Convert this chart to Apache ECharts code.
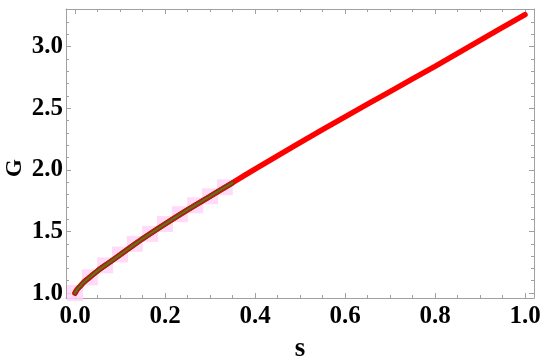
<!DOCTYPE html>
<html>
<head>
<meta charset="utf-8">
<script src="https://cdn.jsdelivr.net/npm/echarts@6/dist/echarts.min.js"></script>
<style>
  html, body { margin: 0; padding: 0; background: #fff; }
  #chart { width: 550px; height: 360px; }
</style>
</head>
<body>
<div id="chart"></div>
<script>
// curve G(s)
const sVals = [0, 0.005, 0.01, 0.02, 0.03, 0.05, 0.075, 0.1, 0.15, 0.2, 0.25, 0.3, 0.35, 0.4, 0.5, 0.6, 0.7, 0.8, 0.9, 1.0]
const gVals = [1.0, 1.03, 1.05, 1.09, 1.12, 1.18, 1.245, 1.31, 1.44, 1.56, 1.675, 1.785, 1.895, 2.005, 2.22, 2.43, 2.635, 2.84, 3.05, 3.26]
// the short overlay curve runs up to s = 0.35
const overlayEnd = 0.35
// pink square markers
const markS = [0, 0.033, 0.067, 0.1, 0.133, 0.167, 0.2, 0.233, 0.267, 0.3, 0.333]
const markG = [1.0, 1.127, 1.225, 1.313, 1.40, 1.48, 1.56, 1.64, 1.712, 1.785, 1.858]
// ticks
const xMajor = [0, 0.2, 0.4, 0.6, 0.8, 1.0]
const xMinor = [0.05, 0.1, 0.15, 0.25, 0.3, 0.35, 0.45, 0.5, 0.55, 0.65, 0.7, 0.75, 0.85, 0.9, 0.95]
const yMajor = [1.0, 1.5, 2.0, 2.5, 3.0]
const yMinor = [1.1, 1.2, 1.3, 1.4, 1.6, 1.7, 1.8, 1.9, 2.1, 2.2, 2.3, 2.4, 2.6, 2.7, 2.8, 2.9, 3.1, 3.2, 3.3]

const curve = sVals.map((s, i) => [s, gVals[i]])
const overlay = curve.filter(p => p[0] <= overlayEnd + 1e-9)
const marks = markS.map((s, i) => [s, markG[i]])

const xMin = -0.02, xMax = 1.02
const yMin = 0.96, yMax = 3.305

const frameColor = '#a0a0a0'
const labelFont = {
  fontFamily: 'Liberation Serif',
  fontWeight: 'bold',
  fontSize: 25,
  color: '#000'
}

function tickAxis(pos, min, max, values, len, withLine) {
  return {
    type: 'value',
    position: pos,
    min: min,
    max: max,
    axisLine: { show: withLine, onZero: false, lineStyle: { color: frameColor, width: 1 } },
    axisTick: { show: true, inside: true, length: len, customValues: values, lineStyle: { color: frameColor } },
    axisLabel: { show: false },
    splitLine: { show: false }
  }
}

const chart = echarts.init(document.getElementById('chart'))
chart.setOption({
  animation: false,
  grid: { left: 66, right: 16, top: 9, bottom: 62, containLabel: false, outerBoundsMode: 'none' },
  xAxis: [
    {
      type: 'value',
      position: 'bottom',
      min: xMin,
      max: xMax,
      name: 's',
      nameLocation: 'middle',
      nameGap: 38,
      nameTextStyle: Object.assign({}, labelFont, { fontSize: 27 }),
      axisLine: { show: true, onZero: false, lineStyle: { color: frameColor, width: 1 } },
      axisTick: { show: true, inside: true, length: 5, customValues: xMajor, lineStyle: { color: frameColor } },
      axisLabel: Object.assign({ customValues: xMajor, margin: 6, formatter: v => v.toFixed(1) }, labelFont),
      splitLine: { show: false }
    },
    tickAxis('bottom', xMin, xMax, xMinor, 3, false),
    tickAxis('top', xMin, xMax, xMajor, 5, true),
    tickAxis('top', xMin, xMax, xMinor, 3, false)
  ],
  yAxis: [
    {
      type: 'value',
      position: 'left',
      min: yMin,
      max: yMax,
      axisLine: { show: true, onZero: false, lineStyle: { color: frameColor, width: 1 } },
      axisTick: { show: true, inside: true, length: 5, customValues: yMajor, lineStyle: { color: frameColor } },
      axisLabel: Object.assign({ customValues: yMajor, margin: 3, formatter: v => v.toFixed(1) }, labelFont),
      splitLine: { show: false }
    },
    tickAxis('left', yMin, yMax, yMinor, 3, false),
    tickAxis('right', yMin, yMax, yMajor, 5, true),
    tickAxis('right', yMin, yMax, yMinor, 3, false)
  ],
  graphic: [{
    type: 'text',
    x: 15,
    y: 168,
    rotation: Math.PI / 2,
    style: {
      text: 'G',
      font: 'bold 23px "Liberation Serif"',
      fill: '#000',
      textAlign: 'center',
      textVerticalAlign: 'middle'
    }
  }],
  series: [
    {
      type: 'scatter',
      data: marks,
      symbol: 'rect',
      symbolSize: 16,
      itemStyle: { color: '#ffd2f7' },
      z: 1
    },
    {
      type: 'line',
      data: curve,
      smooth: 0.3,
      showSymbol: false,
      lineStyle: { color: '#ff0000', width: 5.5, cap: 'round' },
      z: 2
    },
    {
      type: 'line',
      data: overlay,
      smooth: 0.3,
      showSymbol: false,
      lineStyle: { color: '#9a2a0c', width: 5, cap: 'round' },
      z: 3
    },
    {
      type: 'line',
      data: overlay,
      smooth: 0.3,
      showSymbol: false,
      lineStyle: { color: '#6a6e1c', width: 2, cap: 'round' },
      z: 4
    }
  ]
})
</script>
</body>
</html>
